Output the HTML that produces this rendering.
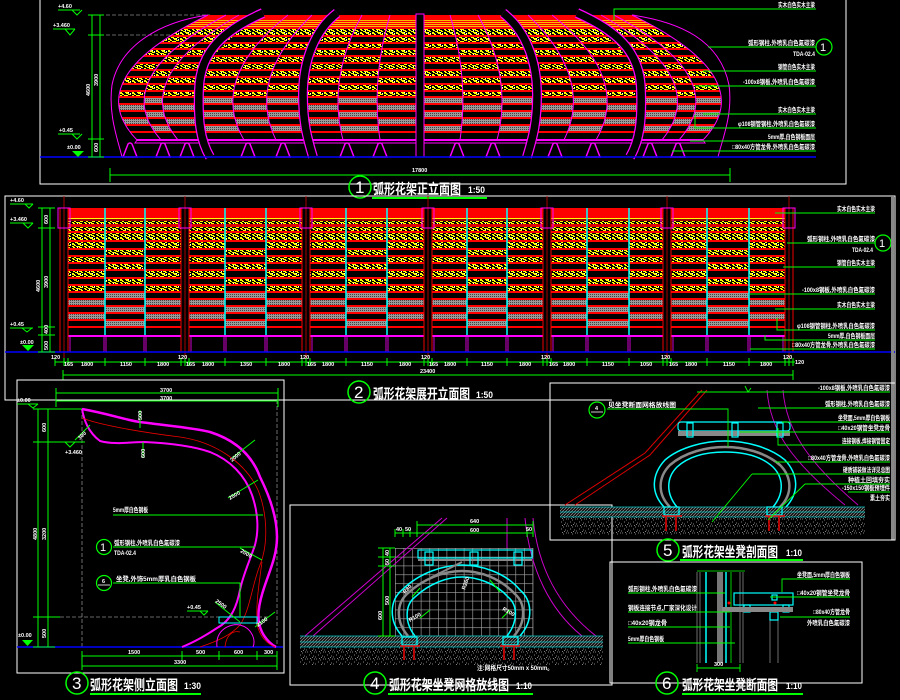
<!DOCTYPE html>
<html><head><meta charset="utf-8"><title>弧形花架</title>
<style>
html,body{margin:0;padding:0;background:#000;width:900px;height:700px;overflow:hidden}
svg{display:block}
text{font-family:"Liberation Sans","Noto Sans CJK SC",sans-serif;font-weight:bold;fill:#fff}
.s{font-size:6.5px}
.d{font-size:5.5px}
.ttl{font-size:14px}
.sc{font-size:9px}
.num{font-size:17px;font-weight:normal}
.sn{font-size:11px;font-weight:normal}
</style></head><body>
<svg width="900" height="700" viewBox="0 0 900 700" xmlns="http://www.w3.org/2000/svg">
<defs>
<pattern id="spk" width="12" height="6" patternUnits="userSpaceOnUse">
<rect width="12" height="6" fill="#000"/>
<path d="M0,0.5h3M6,0.5h3M2,1.5h2M8,1.5h3M0,2.5h2M4,2.5h4M1,3.5h2M7,3.5h3M3,4.5h3M9,4.5h2M0,5.5h2M5,5.5h3" stroke="#ff0" stroke-width="1"/>
<path d="M10,0.5h1M5,3.5h1M8,5.5h1" stroke="#fff" stroke-width="1"/>
</pattern>
<pattern id="gry" width="2" height="2" patternUnits="userSpaceOnUse"><rect width="2" height="2" fill="#9a9a9a"/><rect width="1" height="1" fill="#444"/></pattern>
<pattern id="org" width="4" height="2" patternUnits="userSpaceOnUse"><rect width="4" height="2" fill="#f00"/><rect y="1" width="4" height="1" fill="#fb0"/></pattern>
<pattern id="hat" width="3" height="3" patternUnits="userSpaceOnUse"><rect width="3" height="3" fill="#111"/><path d="M0,3L3,0" stroke="#aaa" stroke-width="0.6"/></pattern>
<pattern id="grv" width="9" height="7" patternUnits="userSpaceOnUse"><path d="M1,1h1M5,2h1M3,4h1M7,5h1M0,6h1M8,1h1M4,0.5h1M6,6.5h1" stroke="#aaa" stroke-width="0.8"/></pattern>
<pattern id="grd" x="395" y="548" width="8.6" height="8.8" patternUnits="userSpaceOnUse"><path d="M0,0.3H8.6M0.3,0V8.8" stroke="#aaa" stroke-width="0.6"/></pattern>

<pattern id="p1A" x="0" y="15" width="24" height="130" patternUnits="userSpaceOnUse">
<rect width="24" height="5" fill="#f00"/>
<rect y="5" width="24" height="7" fill="url(#org)"/>
<g fill="#f00"><rect y="12" width="24" height="2"/><rect y="20" width="24" height="2"/><rect y="27" width="24" height="2"/><rect y="33" width="24" height="2"/><rect y="40" width="24" height="2"/><rect y="47" width="24" height="2"/><rect y="54" width="24" height="2"/><rect y="61" width="24" height="2"/><rect y="68" width="24" height="2"/><rect y="75" width="24" height="2"/><rect y="81" width="24" height="2"/><rect y="88" width="24" height="2"/><rect y="95" width="24" height="2"/><rect y="102" width="24" height="2"/><rect y="109" width="24" height="2"/><rect y="116" width="24" height="2"/></g>
<g fill="url(#spk)"><rect y="14" width="24" height="6"/><rect y="22" width="24" height="5"/><rect y="35" width="24" height="5"/><rect y="49" width="24" height="5"/><rect y="63" width="24" height="5"/><rect y="77" width="24" height="4"/></g>
<g fill="url(#gry)"><rect y="90" width="24" height="5"/><rect y="104" width="24" height="5"/></g>
<rect y="124" width="24" height="2" fill="#f0f"/>
</pattern>
<pattern id="p1B" x="0" y="15" width="24" height="130" patternUnits="userSpaceOnUse">
<rect width="24" height="5" fill="#f00"/>
<rect y="5" width="24" height="7" fill="url(#org)"/>
<g fill="#f00"><rect y="12" width="24" height="2"/><rect y="20" width="24" height="2"/><rect y="27" width="24" height="2"/><rect y="33" width="24" height="2"/><rect y="40" width="24" height="2"/><rect y="47" width="24" height="2"/><rect y="54" width="24" height="2"/><rect y="61" width="24" height="2"/><rect y="68" width="24" height="2"/><rect y="75" width="24" height="2"/><rect y="81" width="24" height="2"/><rect y="88" width="24" height="2"/><rect y="95" width="24" height="2"/><rect y="102" width="24" height="2"/><rect y="109" width="24" height="2"/><rect y="116" width="24" height="2"/></g>
<g fill="url(#spk)"><rect y="14" width="24" height="6"/><rect y="29" width="24" height="4"/><rect y="42" width="24" height="5"/><rect y="56" width="24" height="5"/><rect y="70" width="24" height="5"/></g>
<g fill="url(#gry)"><rect y="83" width="24" height="5"/><rect y="97" width="24" height="5"/><rect y="111" width="24" height="5"/></g>
<rect y="124" width="24" height="2" fill="#f0f"/>
</pattern>

<pattern id="p2A" x="0" y="208" width="24" height="130" patternUnits="userSpaceOnUse">
<rect width="24" height="10" fill="#f00"/>
<rect y="10" width="24" height="1" fill="#ff0"/>
<rect y="11" width="24" height="2" fill="#900"/>
<rect y="13" width="24" height="3" fill="url(#spk)"/>
<rect y="16" width="24" height="3" fill="#d00"/>
<rect y="19" width="24" height="4" fill="url(#spk)"/>
<g fill="#f00"><rect y="23" width="24" height="2"/><rect y="32" width="24" height="2"/><rect y="40" width="24" height="2"/><rect y="47" width="24" height="2"/><rect y="54" width="24" height="2"/><rect y="61" width="24" height="2"/><rect y="69" width="24" height="2"/><rect y="76" width="24" height="2"/><rect y="83" width="24" height="2"/><rect y="90" width="24" height="2"/><rect y="97" width="24" height="2"/><rect y="104" width="24" height="2"/><rect y="111" width="24" height="2"/><rect y="118" width="24" height="2"/></g>
<g fill="url(#spk)"><rect y="25" width="24" height="7"/><rect y="34" width="24" height="6"/><rect y="49" width="24" height="5"/><rect y="63" width="24" height="6"/><rect y="78" width="24" height="5"/></g>
<g fill="url(#gry)"><rect y="92" width="24" height="5"/><rect y="106" width="24" height="5"/></g>
<rect y="127" width="24" height="2" fill="#f0f"/>
</pattern>
<pattern id="p2B" x="0" y="208" width="24" height="130" patternUnits="userSpaceOnUse">
<rect width="24" height="10" fill="#f00"/>
<rect y="10" width="24" height="1" fill="#ff0"/>
<rect y="11" width="24" height="2" fill="#900"/>
<rect y="13" width="24" height="3" fill="url(#spk)"/>
<rect y="16" width="24" height="3" fill="#d00"/>
<rect y="19" width="24" height="4" fill="url(#spk)"/>
<g fill="#f00"><rect y="23" width="24" height="2"/><rect y="32" width="24" height="2"/><rect y="40" width="24" height="2"/><rect y="47" width="24" height="2"/><rect y="54" width="24" height="2"/><rect y="61" width="24" height="2"/><rect y="69" width="24" height="2"/><rect y="76" width="24" height="2"/><rect y="83" width="24" height="2"/><rect y="90" width="24" height="2"/><rect y="97" width="24" height="2"/><rect y="104" width="24" height="2"/><rect y="111" width="24" height="2"/><rect y="118" width="24" height="2"/></g>
<g fill="url(#spk)"><rect y="25" width="24" height="7"/><rect y="42" width="24" height="5"/><rect y="56" width="24" height="5"/><rect y="71" width="24" height="5"/></g>
<g fill="url(#gry)"><rect y="85" width="24" height="5"/><rect y="99" width="24" height="5"/><rect y="113" width="24" height="5"/></g>
<rect y="127" width="24" height="2" fill="#f0f"/>
</pattern>
</defs>

<rect width="900" height="700" fill="#000"/>

<!-- ================= PANEL 1 ================= -->
<path d="M40,0V184H846V0" fill="none" stroke="#fff" stroke-width="1"/>
<path d="M100,15H210M100,35H200" stroke="#888" stroke-width="0.8" stroke-dasharray="4,2"/>
<g>
<path d="M208,15Q78,78.5 137,140L161,140Q107,78.5 226,15Z" fill="url(#p1A)"/>
<path d="M226,15Q107,78.5 161,140L178,140Q128,78.5 239,15Z" fill="url(#p1B)"/>
<path d="M239,15Q128,78.5 178,140L209,140Q165,78.5 262,15Z" fill="url(#p1A)"/>
<path d="M262,15Q165,78.5 209,140L244,140Q208,78.5 288,15Z" fill="url(#p1B)"/>
<path d="M288,15Q208,78.5 244,140L276,140Q246,78.5 312,15Z" fill="url(#p1A)"/>
<path d="M312,15Q246,78.5 276,140L310,140Q287,78.5 337,15Z" fill="url(#p1B)"/>
<path d="M337,15Q287,78.5 310,140L343,140Q327,78.5 362,15Z" fill="url(#p1A)"/>
<path d="M362,15Q327,78.5 343,140L380,140Q371,78.5 390,15Z" fill="url(#p1B)"/>
<path d="M390,15Q371,78.5 380,140L420,140Q420,78.5 420,15Z" fill="url(#p1A)"/>
<path d="M420,15Q420,78.5 420,140L460,140Q469,78.5 450,15Z" fill="url(#p1B)"/>
<path d="M450,15Q469,78.5 460,140L497,140Q513,78.5 478,15Z" fill="url(#p1A)"/>
<path d="M478,15Q513,78.5 497,140L530,140Q553,78.5 503,15Z" fill="url(#p1B)"/>
<path d="M503,15Q553,78.5 530,140L564,140Q594,78.5 528,15Z" fill="url(#p1A)"/>
<path d="M528,15Q594,78.5 564,140L596,140Q632,78.5 552,15Z" fill="url(#p1B)"/>
<path d="M552,15Q632,78.5 596,140L631,140Q675,78.5 578,15Z" fill="url(#p1A)"/>
<path d="M578,15Q675,78.5 631,140L662,140Q712,78.5 601,15Z" fill="url(#p1B)"/>
<path d="M601,15Q712,78.5 662,140L679,140Q733,78.5 614,15Z" fill="url(#p1A)"/>
<path d="M614,15Q733,78.5 679,140L703,140Q762,78.5 632,15Z" fill="url(#p1B)"/>
</g>
<g fill="none" stroke="#f0f" stroke-width="1">
<path d="M208,15Q78,78.5 137,140M226,15Q107,78.5 161,140M239,15Q128,78.5 178,140M288,15Q208,78.5 244,140M312,15Q246,78.5 276,140M362,15Q327,78.5 343,140M390,15Q371,78.5 380,140M450,15Q469,78.5 460,140M478,15Q513,78.5 497,140M528,15Q594,78.5 564,140M552,15Q632,78.5 596,140M601,15Q712,78.5 662,140M614,15Q733,78.5 679,140M632,15Q762,78.5 703,140"/>
<path d="M208,15C160,22 120,45 112,85C108,115 118,140 122,157"/>
<path d="M632,15C680,22 720,40 729,85C733,115 722,140 718,157"/>
<path d="M137,140L135,143H705L703,140" />
</g>
<rect x="137" y="139" width="566" height="2" fill="#f0f"/>
<g fill="none">
<path d="M263,13C225,30 200,50 199,90C198,120 200,140 210,157M337,13C315,30 303,60 303,95C303,125 308,140 313,157M503,13C525,30 537,60 537,95C537,125 532,140 527,157M577,13C615,30 640,50 641,90C642,120 640,140 630,157" stroke="#f0f" stroke-width="10"/>
<path d="M263,13C225,30 200,50 199,90C198,120 200,140 210,157M337,13C315,30 303,60 303,95C303,125 308,140 313,157M503,13C525,30 537,60 537,95C537,125 532,140 527,157M577,13C615,30 640,50 641,90C642,120 640,140 630,157" stroke="#000" stroke-width="7.5"/>
</g>
<rect x="416" y="14" width="8" height="143" fill="#000" stroke="#f0f" stroke-width="1"/>
<path d="M123,157L128,144Q130,142 132,144L137,157ZM156,157L161,144Q163,142 165,144L170,157ZM180,157L185,144Q187,142 189,144L194,157ZM241,157L246,144Q248,142 250,144L255,157ZM276,157L281,144Q283,142 285,144L290,157ZM340,157L345,144Q347,142 349,144L354,157ZM373,157L378,144Q380,142 382,144L387,157ZM450,157L455,144Q457,142 459,144L464,157ZM486,157L491,144Q493,142 495,144L500,157ZM548,157L553,144Q555,142 557,144L562,157ZM586,157L591,144Q593,142 595,144L600,157ZM643,157L648,144Q650,142 652,144L657,157ZM671,157L676,144Q678,142 680,144L685,157Z" fill="none" stroke="#f0f" stroke-width="1.5"/>
<path d="M40,157H816" stroke="#00f" stroke-width="1.5"/>
<!-- panel1 dims -->
<g stroke="#0f0" stroke-width="1" fill="none">
<path d="M92,15V157M100,15V157M88,15H104M88,35H104M88,139H104M88,157H104"/>
<path d="M58,10H80M72,10L77,15L82,10M53,29H75M65,29L70,35L75,29M58,134H80M72,134L77,139L82,134"/>
<path d="M110,168V182M730,168V182M110,175H730"/>
<path d="M614,20V9H816M708,47H816M703,71H816M695,86H816M703,114H816M695,115V128H816M690,141H816M672,151H816"/>
</g>
<path d="M72,151H84L78,157Z" fill="#0f0"/>
<g class="d">
<text x="58" y="8">+4.60</text>
<text x="53" y="27">+3.460</text>
<text x="59" y="132">+0.45</text>
<text x="67" y="149">±0.00</text>
<text transform="translate(90,96) rotate(-90)">4600</text>
<text transform="translate(98,86) rotate(-90)">3900</text>
<text transform="translate(98,152) rotate(-90)">600</text>
<text x="412" y="172">17800</text>
</g>
<g class="s">
<text x="778" y="7" textLength="37" lengthAdjust="spacingAndGlyphs">实木白色实木主梁</text>
<text x="748" y="45" textLength="67" lengthAdjust="spacingAndGlyphs">弧形钢柱,外喷乳白色氟碳漆</text>
<text x="793" y="56" textLength="22" lengthAdjust="spacingAndGlyphs">TDA-02.4</text>
<text x="778" y="69" textLength="37" lengthAdjust="spacingAndGlyphs">钢管白色实木主梁</text>
<text x="743" y="84" textLength="72" lengthAdjust="spacingAndGlyphs">-100x8钢板,外喷乳白色氟碳漆</text>
<text x="778" y="112" textLength="37" lengthAdjust="spacingAndGlyphs">实木白色实木主梁</text>
<text x="738" y="126" textLength="77" lengthAdjust="spacingAndGlyphs">φ108钢管钢柱,外喷乳白色氟碳漆</text>
<text x="768" y="139" textLength="47" lengthAdjust="spacingAndGlyphs">5mm厚,白色钢板面层</text>
<text x="732" y="149" textLength="83" lengthAdjust="spacingAndGlyphs">□80x40方管龙骨,外喷乳白色氟碳漆</text>
</g>
<circle cx="824" cy="47" r="8" fill="none" stroke="#0f0" stroke-width="1.2"/>
<text class="sn" x="820" y="51">1</text>
<!-- title 1 -->
<circle cx="360" cy="187" r="11" fill="none" stroke="#0f0" stroke-width="1.5"/>
<text class="num" x="355" y="193">1</text>
<text class="ttl" x="373" y="194" textLength="88" lengthAdjust="spacingAndGlyphs">弧形花架正立面图</text>
<text class="sc" x="468" y="193" textLength="17" lengthAdjust="spacingAndGlyphs">1:50</text>
<path d="M372,198H487" stroke="#0f0" stroke-width="2"/>

<!-- ================= PANEL 2 ================= -->
<path d="M895,383V196H5V400H612" fill="none" stroke="#fff" stroke-width="1"/>
<g>
<rect x="68" y="208" width="37" height="129" fill="url(#p2A)"/>
<rect x="105" y="208" width="40" height="129" fill="url(#p2B)"/>
<rect x="145" y="208" width="36" height="129" fill="url(#p2A)"/>
<rect x="189" y="208" width="36" height="129" fill="url(#p2A)"/>
<rect x="225" y="208" width="41" height="129" fill="url(#p2B)"/>
<rect x="266" y="208" width="36" height="129" fill="url(#p2A)"/>
<rect x="310" y="208" width="36" height="129" fill="url(#p2A)"/>
<rect x="346" y="208" width="41" height="129" fill="url(#p2B)"/>
<rect x="387" y="208" width="37" height="129" fill="url(#p2A)"/>
<rect x="432" y="208" width="35" height="129" fill="url(#p2A)"/>
<rect x="467" y="208" width="40" height="129" fill="url(#p2B)"/>
<rect x="507" y="208" width="36" height="129" fill="url(#p2A)"/>
<rect x="551" y="208" width="36" height="129" fill="url(#p2A)"/>
<rect x="587" y="208" width="42" height="129" fill="url(#p2B)"/>
<rect x="629" y="208" width="34" height="129" fill="url(#p2A)"/>
<rect x="671" y="208" width="36" height="129" fill="url(#p2A)"/>
<rect x="707" y="208" width="42" height="129" fill="url(#p2B)"/>
<rect x="749" y="208" width="36" height="129" fill="url(#p2A)"/>
</g>
<path d="M105,208V335M145,208V335M225,208V335M266,208V335M346,208V335M387,208V335M467,208V335M507,208V335M587,208V335M629,208V335M707,208V335M749,208V335" stroke="#0ff" stroke-width="1.5"/>
<path d="M104,337V352M106,337V352M144,337V352M146,337V352M224,337V352M226,337V352M265,337V352M267,337V352M345,337V352M347,337V352M386,337V352M388,337V352M466,337V352M468,337V352M506,337V352M508,337V352M586,337V352M588,337V352M628,337V352M630,337V352M706,337V352M708,337V352M748,337V352M750,337V352M70,337V352M183,337V352M191,337V352M304,337V352M312,337V352M426,337V352M434,337V352M545,337V352M553,337V352M665,337V352M673,337V352M783,337V352" stroke="#f0f" stroke-width="0.8"/>
<g fill="#000" stroke="#e00" stroke-width="1">
<rect x="60" y="208" width="8" height="144"/><rect x="181" y="208" width="8" height="144"/><rect x="302" y="208" width="8" height="144"/><rect x="424" y="208" width="8" height="144"/><rect x="543" y="208" width="8" height="144"/><rect x="663" y="208" width="8" height="144"/><rect x="785" y="208" width="8" height="144"/>
</g>
<path d="M64,196V362M185,196V362M306,196V362M428,196V362M547,196V362M667,196V362M789,196V362" stroke="#c00" stroke-width="0.8"/>
<g fill="none" stroke="#f0f" stroke-width="1">
<rect x="58" y="208" width="12" height="20"/><rect x="179" y="208" width="12" height="20"/><rect x="300" y="208" width="12" height="20"/><rect x="422" y="208" width="12" height="20"/><rect x="541" y="208" width="12" height="20"/><rect x="661" y="208" width="12" height="20"/><rect x="783" y="208" width="12" height="20"/>
</g>
<path d="M5,352H895" stroke="#00f" stroke-width="1.5"/>
<g stroke="#0f0" stroke-width="1" fill="none">
<path d="M42,208V352M50,208V352M38,208H55M38,228H55M38,327H55M38,335H55M38,352H55"/>
<path d="M10,204H33M25,204L29,208L33,204M10,223H33M23,223L28,228L33,223M10,328H33M22,328L27,332L32,328"/>
<path d="M55,362H795M63,375H793M63,370V380M793,370V380M55,358V366M64,358V366M68,358V366M105,358V366M145,358V366M181,358V366M185,358V366M189,358V366M225,358V366M266,358V366M302,358V366M306,358V366M310,358V366M346,358V366M387,358V366M424,358V366M428,358V366M432,358V366M467,358V366M507,358V366M543,358V366M547,358V366M551,358V366M587,358V366M629,358V366M663,358V366M667,358V366M671,358V366M707,358V366M749,358V366M785,358V366M789,358V366M793,358V366"/>
<path d="M775,213H875M787,243H875M783,267H875M750,294H875M775,309H875M777,318V330H875M765,335V340H875M750,349H875"/>
</g>
<path d="M22,345H34L28,351Z" fill="#0f0"/>
<g class="d">
<text x="10" y="202">+4.60</text>
<text x="10" y="221">+3.460</text>
<text x="10" y="326">+0.45</text>
<text x="20" y="344">±0.00</text>
<text transform="translate(40,292) rotate(-90)">4600</text>
<text transform="translate(48,288) rotate(-90)">3900</text>
<text transform="translate(48,224) rotate(-90)">600</text>
<text transform="translate(48,334) rotate(-90)">400</text>
<text transform="translate(48,350) rotate(-90)">500</text>
<text x="51" y="359">120</text><text x="64" y="366">165</text><text x="81" y="366">1800</text><text x="120" y="366">1150</text><text x="157" y="366">1800</text>
<text x="178" y="359">120</text><text x="186" y="366">165</text><text x="202" y="366">1800</text><text x="240" y="366">1350</text><text x="278" y="366">1800</text>
<text x="300" y="359">120</text><text x="307" y="366">165</text><text x="322" y="366">1800</text><text x="361" y="366">1150</text><text x="399" y="366">1800</text>
<text x="421" y="359">120</text><text x="429" y="366">165</text><text x="444" y="366">1800</text><text x="481" y="366">1150</text><text x="519" y="366">1800</text>
<text x="541" y="359">120</text><text x="549" y="366">165</text><text x="563" y="366">1800</text><text x="602" y="366">1150</text><text x="640" y="366">1050</text>
<text x="661" y="359">120</text><text x="669" y="366">165</text><text x="685" y="366">1800</text><text x="723" y="366">1150</text><text x="760" y="366">1800</text>
<text x="783" y="359">120</text><text x="795" y="364">120</text>
<text x="420" y="373">23400</text>
</g>
<g class="s">
<text x="837" y="211" textLength="38" lengthAdjust="spacingAndGlyphs">实木白色实木主梁</text>
<text x="807" y="241" textLength="68" lengthAdjust="spacingAndGlyphs">弧形钢柱,外喷乳白色氟碳漆</text>
<text x="852" y="252" textLength="21" lengthAdjust="spacingAndGlyphs">TDA-02.4</text>
<text x="837" y="265" textLength="38" lengthAdjust="spacingAndGlyphs">钢管白色实木主梁</text>
<text x="802" y="292" textLength="73" lengthAdjust="spacingAndGlyphs">-100x8钢板,外喷乳白色氟碳漆</text>
<text x="837" y="307" textLength="38" lengthAdjust="spacingAndGlyphs">实木白色实木主梁</text>
<text x="797" y="328" textLength="78" lengthAdjust="spacingAndGlyphs">φ108钢管钢柱,外喷乳白色氟碳漆</text>
<text x="828" y="338" textLength="47" lengthAdjust="spacingAndGlyphs">5mm厚,白色钢板面层</text>
<text x="792" y="347" textLength="83" lengthAdjust="spacingAndGlyphs">□80x40方管龙骨,外喷乳白色氟碳漆</text>
</g>
<circle cx="883" cy="243" r="8" fill="none" stroke="#0f0" stroke-width="1.2"/>
<text class="sn" x="879" y="247">1</text>
<rect x="891" y="196" width="3" height="344" fill="#888"/>
<!-- title 2 -->
<circle cx="359" cy="392" r="11" fill="none" stroke="#0f0" stroke-width="1.5"/>
<text class="num" x="354" y="398">2</text>
<text class="ttl" x="373" y="399" textLength="97" lengthAdjust="spacingAndGlyphs">弧形花架展开立面图</text>
<text class="sc" x="476" y="398" textLength="17" lengthAdjust="spacingAndGlyphs">1:50</text>

<!-- ================= PANEL 3 ================= -->
<rect x="17" y="380" width="267" height="293" fill="none" stroke="#fff" stroke-width="1"/>
<path d="M82,409V647M277,400V647M48,617H270" stroke="#888" stroke-width="0.8" stroke-dasharray="4,2"/>
<path d="M17,647H283" stroke="#00f" stroke-width="1.5"/>
<path d="M82,409C110,414 125,420 140,422C170,426 195,428 210,432C235,440 252,455 260,477C270,497 277,517 277,537C277,555 270,570 265,585C258,605 256,620 262,632C266,640 272,645 276,647" fill="none" stroke="#f0f" stroke-width="2.5"/>
<path d="M82,409C84,420 88,432 100,441C115,445 130,442 145,442C165,443 190,445 210,452C230,460 245,475 252,495C258,512 259,530 255,545C250,560 243,575 240,590C237,605 232,620 217,628C205,636 192,643 182,647" fill="none" stroke="#f0f" stroke-width="2"/>
<path d="M82,418C100,425 140,432 180,437C215,442 245,462 258,490C268,515 268,545 260,565C252,585 250,610 240,625C230,636 215,642 200,647" fill="none" stroke="#e00" stroke-width="0.8"/>
<path d="M262,562C258,590 255,612 258,628C262,640 270,645 275,647" fill="none" stroke="#e00" stroke-width="0.8"/>
<rect x="219" y="617" width="38" height="6" fill="none" stroke="#0ff" stroke-width="1"/>
<path d="M217,647C215,630 230,623 240,625C252,628 256,640 253,647" fill="none" stroke="#f0f" stroke-width="1"/>
<path d="M225,647C226,636 232,630 240,632" fill="none" stroke="#e00" stroke-width="0.8"/>
<g stroke="#0f0" stroke-width="1" fill="none">
<path d="M56,393H278M56,401H278M56,388V407M278,388V407"/>
<path d="M38,409V647M48,409V647M33,409H82M33,442H85M33,617H60M33,647H55"/>
<path d="M17,404H38M28,404L33,408L38,404M65,442L70,447L75,442M200,611L204,615L208,611M187,611H208"/>
<path d="M82,656H277M82,666H277M82,651V670M182,651V660M219,651V660M257,651V660M277,651V670"/>
<path d="M113,515H263M113,547H255M113,583H240V617"/>
<path d="M140,410V428M143,442V458M75,440L90,425M232,458L255,440M228,498L258,480M240,548L262,560M215,602L240,622M255,627L275,612"/>
</g>
<path d="M22,640H33L27.5,646Z" fill="#0f0"/>
<g class="d">
<text x="160" y="392">3700</text>
<text x="160" y="400">3700</text>
<text x="17" y="402">±0.00</text>
<text x="18" y="637">±0.00</text>
<text x="65" y="454">+3.460</text>
<text x="187" y="609">+0.45</text>
<text transform="translate(37,540) rotate(-90)">4800</text>
<text transform="translate(46,540) rotate(-90)">3200</text>
<text transform="translate(46,432) rotate(-90)">600</text>
<text transform="translate(46,638) rotate(-90)">500</text>
<text transform="translate(142,420) rotate(-90)">500</text>
<text transform="translate(145,458) rotate(-90)">600</text>
<text transform="translate(80,440) rotate(-45)">300</text>
<text transform="translate(232,462) rotate(-40)">2000</text>
<text transform="translate(230,500) rotate(-30)">2500</text>
<text transform="translate(240,552) rotate(30)">2000</text>
<text transform="translate(215,602) rotate(35)">2500</text>
<text transform="translate(258,627) rotate(-35)">2100</text>
<text x="128" y="654">1500</text><text x="196" y="654">500</text><text x="234" y="654">600</text><text x="264" y="654">300</text>
<text x="174" y="664">3300</text>
</g>
<g class="s">
<text x="113" y="512" textLength="35" lengthAdjust="spacingAndGlyphs">5mm厚白色钢板</text>
<text x="114" y="545" textLength="66" lengthAdjust="spacingAndGlyphs">弧形钢柱,外喷乳白色氟碳漆</text>
<text x="114" y="555" textLength="22" lengthAdjust="spacingAndGlyphs">TDA-02.4</text>
<text x="116" y="581" textLength="80" lengthAdjust="spacingAndGlyphs">坐凳,外饰5mm厚乳白色钢板</text>
</g>
<circle cx="104" cy="547" r="7.5" fill="none" stroke="#0f0" stroke-width="1.2"/>
<text class="sn" x="100" y="551">1</text>
<circle cx="104" cy="583" r="7.5" fill="none" stroke="#0f0" stroke-width="1.2"/>
<path d="M98,585H110" stroke="#fff" stroke-width="0.8"/>
<text class="d" x="102" y="583">6</text>
<!-- title 3 -->
<circle cx="77" cy="683" r="11" fill="none" stroke="#0f0" stroke-width="1.5"/>
<text class="num" x="72" y="689">3</text>
<text class="ttl" x="90" y="690" textLength="88" lengthAdjust="spacingAndGlyphs">弧形花架侧立面图</text>
<text class="sc" x="184" y="689" textLength="17" lengthAdjust="spacingAndGlyphs">1:30</text>
<path d="M90,694H201" stroke="#0f0" stroke-width="2"/>

<!-- ================= PANEL 4 ================= -->
<rect x="290" y="505" width="322" height="180" fill="none" stroke="#fff" stroke-width="1"/>
<rect x="395" y="548" width="138" height="88" fill="url(#grd)"/>
<path d="M533,548V636M395,636H533" stroke="#aaa" stroke-width="0.6"/>
<path d="M305,636L442,518M313,636L447,518M525,518C530,570 550,610 582,636M533,518C538,570 560,608 596,636M507,518V548" fill="none" stroke="#c0c" stroke-width="1"/>
<rect x="300" y="636" width="303" height="11" fill="url(#hat)"/>
<path d="M300,636H603M300,642H603M300,647H603" stroke="#0cc" stroke-width="0.8"/>
<rect x="300" y="647" width="303" height="18" fill="url(#grv)"/>
<path d="M408,636C396,622 396,604 407,594C424,578 445,571 462,571C480,571 500,578 515,594C526,604 526,622 514,636" fill="none" stroke="#888" stroke-width="2.5"/>
<path d="M402,636C388,620 390,600 402,590C420,572 445,565 462,565C480,565 505,572 520,590C532,600 534,620 520,636" fill="none" stroke="#0ff" stroke-width="1.5"/>
<path d="M415,636C404,622 405,605 415,597C430,583 448,577 462,577C476,577 496,583 508,597C518,605 518,622 507,636" fill="none" stroke="#0ff" stroke-width="1.5"/>
<rect x="418" y="550" width="114" height="8" fill="none" stroke="#0ff" stroke-width="1.2"/>
<path d="M418,560H532M462,562L430,578" stroke="#888" stroke-width="2"/>
<g fill="none" stroke="#0ff" stroke-width="1.2">
<rect x="425" y="552" width="8" height="13"/><rect x="470" y="552" width="8" height="13"/><rect x="514" y="552" width="8" height="13"/>
<rect x="402" y="637" width="15" height="8"/><rect x="503" y="637" width="15" height="8"/>
</g>
<path d="M400,646H420M404,646V660M414,646V660M500,646H520M504,646V660M514,646V660" stroke="#e00" stroke-width="1.5"/>
<g stroke="#0f0" stroke-width="1" fill="none">
<path d="M417,525H533M395,533H533M417,521V537M533,521V537M395,529V537M403,529V537M410,529V537M527,529V537"/>
<path d="M383,548V636M390,548V636M378,548H395M378,557H395M378,566H395M378,636H395"/>
<path d="M412,597L420,588M490,580L500,592M420,618L430,610M502,618L510,610"/>
</g>
<g class="d">
<text x="470" y="523">640</text><text x="470" y="532">600</text><text x="396" y="531">40</text><text x="405" y="531">50</text><text x="526" y="531">50</text>
<text transform="translate(382,620) rotate(-90)">600</text>
<text transform="translate(389,605) rotate(-90)">500</text>
<text transform="translate(389,556) rotate(-90)">40</text>
<text transform="translate(389,565) rotate(-90)">50</text>
<text transform="translate(465,590) rotate(-70)">R260</text>
<text transform="translate(405,594) rotate(-45)">R80</text>
<text transform="translate(410,622) rotate(-30)">R100</text>
<text transform="translate(502,610) rotate(30)">R100</text>
</g>
<text class="s" x="477" y="670" textLength="76" lengthAdjust="spacingAndGlyphs">注:网格尺寸50mm x 50mm。</text>
<!-- title 4 -->
<circle cx="375" cy="683" r="11" fill="none" stroke="#0f0" stroke-width="1.5"/>
<text class="num" x="370" y="689">4</text>
<text class="ttl" x="389" y="690" textLength="120" lengthAdjust="spacingAndGlyphs">弧形花架坐凳网格放线图</text>
<text class="sc" x="516" y="689" textLength="16" lengthAdjust="spacingAndGlyphs">1:10</text>
<path d="M388,694H533" stroke="#0f0" stroke-width="2"/>

<!-- ================= PANEL 5 ================= -->
<rect x="550" y="383" width="345" height="157" fill="none" stroke="#fff" stroke-width="1"/>
<path d="M565,505L645,453L702,390M575,505L650,455L707,390" fill="none" stroke="#d00" stroke-width="1"/>
<path d="M767,390C770,430 790,460 845,505M783,390C786,430 808,462 858,505" fill="none" stroke="#b0b" stroke-width="1"/>
<rect x="560" y="507" width="305" height="10" fill="url(#hat)"/>
<path d="M560,507H865M560,512H865M560,517H865" stroke="#0cc" stroke-width="0.8"/>
<rect x="560" y="517" width="305" height="18" fill="url(#grv)"/>
<path d="M670,507C657,494 658,477 670,465C685,452 707,447 725,447C743,447 765,452 780,465C792,477 793,494 780,507" fill="none" stroke="#888" stroke-width="2.5"/>
<path d="M664,507C650,492 652,474 665,460C680,447 705,441 725,441C745,441 770,447 785,460C798,474 800,492 786,507" fill="none" stroke="#0ff" stroke-width="1.5"/>
<path d="M677,507C666,494 666,478 677,467C690,455 708,452 725,452C742,452 760,455 773,467C784,478 784,494 773,507" fill="none" stroke="#0ff" stroke-width="1.5"/>
<rect x="678" y="422" width="112" height="9" rx="3" fill="none" stroke="#0ff" stroke-width="1.2"/>
<rect x="678" y="431" width="112" height="5" fill="#888"/>
<g fill="none" stroke="#0ff" stroke-width="1.2">
<rect x="687" y="423" width="6" height="14"/><rect x="732" y="423" width="6" height="14"/><rect x="777" y="423" width="6" height="14"/>
<rect x="664" y="507" width="15" height="8"/><rect x="767" y="507" width="15" height="8"/>
</g>
<path d="M662,516H682M666,516V531M676,516V531M765,516H785M769,516V531M779,516V531" stroke="#e00" stroke-width="1.5"/>
<g stroke="#0f0" stroke-width="0.9" fill="none">
<path d="M697,392H890M745,386L748,392L751,388"/>
<path d="M607,409H728V447"/>
<path d="M758,408H890M782,422H890M740,432H890M778,428V445H890M775,462H890M752,474H890M752,474L712,522M805,484H890M805,484L768,520M848,492H890"/>
</g>
<g class="s">
<text x="818" y="390" textLength="72" lengthAdjust="spacingAndGlyphs">-100x8钢板,外喷乳白色氟碳漆</text>
<text x="825" y="406" textLength="65" lengthAdjust="spacingAndGlyphs">弧形钢柱,外喷乳白色氟碳漆</text>
<text x="838" y="420" textLength="52" lengthAdjust="spacingAndGlyphs">坐凳面,5mm厚白色钢板</text>
<text x="838" y="430" textLength="52" lengthAdjust="spacingAndGlyphs">□40x20钢管坐凳龙骨</text>
<text x="842" y="443" textLength="48" lengthAdjust="spacingAndGlyphs">连接钢板,焊接钢管固定</text>
<text x="808" y="460" textLength="82" lengthAdjust="spacingAndGlyphs">□80x40方管龙骨,外喷乳白色氟碳漆</text>
<text x="843" y="472" textLength="47" lengthAdjust="spacingAndGlyphs">硬质铺装做法详见总图</text>
<text x="848" y="482" textLength="42" lengthAdjust="spacingAndGlyphs">种植土回填夯实</text>
<text x="842" y="490" textLength="48" lengthAdjust="spacingAndGlyphs">-150x150钢板预埋件</text>
<text x="870" y="500" textLength="20" lengthAdjust="spacingAndGlyphs">素土夯实</text>
<text x="608" y="407" textLength="68" lengthAdjust="spacingAndGlyphs">见坐凳断面网格放线图</text>
</g>
<circle cx="597" cy="410" r="8" fill="none" stroke="#0f0" stroke-width="1.2"/>
<path d="M591,412H603" stroke="#fff" stroke-width="0.8"/>
<text class="d" x="595" y="410">4</text>
<!-- title 5 -->
<circle cx="668" cy="550" r="11" fill="none" stroke="#0f0" stroke-width="1.5"/>
<text class="num" x="663" y="556">5</text>
<text class="ttl" x="682" y="557" textLength="96" lengthAdjust="spacingAndGlyphs">弧形花架坐凳剖面图</text>
<text class="sc" x="786" y="556" textLength="16" lengthAdjust="spacingAndGlyphs">1:10</text>
<path d="M680,560H803" stroke="#0f0" stroke-width="2"/>

<!-- ================= PANEL 6 ================= -->
<rect x="610" y="562" width="252" height="121" fill="none" stroke="#fff" stroke-width="1"/>
<path d="M697,572V663M700,572V663M740,572V663M743,572V663M770,612V663M778,612V663" stroke="#999" stroke-width="0.7"/>
<rect x="717" y="572" width="6" height="91" fill="#777"/>
<path d="M706,572V663M726,572V663" stroke="#0ff" stroke-width="1.5"/>
<path d="M731,572V663M697,571H745" stroke="#0f0" stroke-width="0.8"/>
<g fill="none" stroke="#0ff" stroke-width="1.2">
<rect x="734" y="593" width="59" height="12"/>
<rect x="744" y="605" width="6" height="7"/><rect x="783" y="605" width="6" height="7"/><rect x="770" y="612" width="8" height="8"/>
<rect x="772" y="595" width="5" height="5"/>
</g>
<rect x="722" y="607" width="71" height="5" fill="#888"/>
<circle cx="775" cy="603" r="1.5" fill="#f00"/><circle cx="729" cy="603" r="1.5" fill="#f00"/>
<g stroke="#0f0" stroke-width="0.9" fill="none">
<path d="M628,593H725M628,612H730M628,627H730M628,643H735"/>
<path d="M782,592V579H850M770,597H850M780,617H850"/>
<path d="M697,668H740M697,664V672M740,664V672"/>
</g>
<text class="d" x="714" y="666">300</text>
<g class="s">
<text x="628" y="591" textLength="69" lengthAdjust="spacingAndGlyphs">弧形钢柱,外喷乳白色氟碳漆</text>
<text x="628" y="610" textLength="69" lengthAdjust="spacingAndGlyphs">钢板连接节点,厂家深化设计</text>
<text x="628" y="625" textLength="39" lengthAdjust="spacingAndGlyphs">□40x20钢龙骨</text>
<text x="628" y="641" textLength="36" lengthAdjust="spacingAndGlyphs">5mm厚白色钢板</text>
<text x="797" y="577" textLength="53" lengthAdjust="spacingAndGlyphs">坐凳面,5mm厚白色钢板</text>
<text x="797" y="595" textLength="53" lengthAdjust="spacingAndGlyphs">□40x20钢管坐凳龙骨</text>
<text x="813" y="614" textLength="37" lengthAdjust="spacingAndGlyphs">□80x40方管龙骨</text>
<text x="807" y="625" textLength="43" lengthAdjust="spacingAndGlyphs">外喷乳白色氟碳漆</text>
</g>
<!-- title 6 -->
<circle cx="667" cy="683" r="11" fill="none" stroke="#0f0" stroke-width="1.5"/>
<text class="num" x="662" y="689">6</text>
<text class="ttl" x="682" y="690" textLength="96" lengthAdjust="spacingAndGlyphs">弧形花架坐凳断面图</text>
<text class="sc" x="786" y="689" textLength="16" lengthAdjust="spacingAndGlyphs">1:10</text>
<path d="M682,694H803" stroke="#0f0" stroke-width="2"/>
</svg>
</body></html>
